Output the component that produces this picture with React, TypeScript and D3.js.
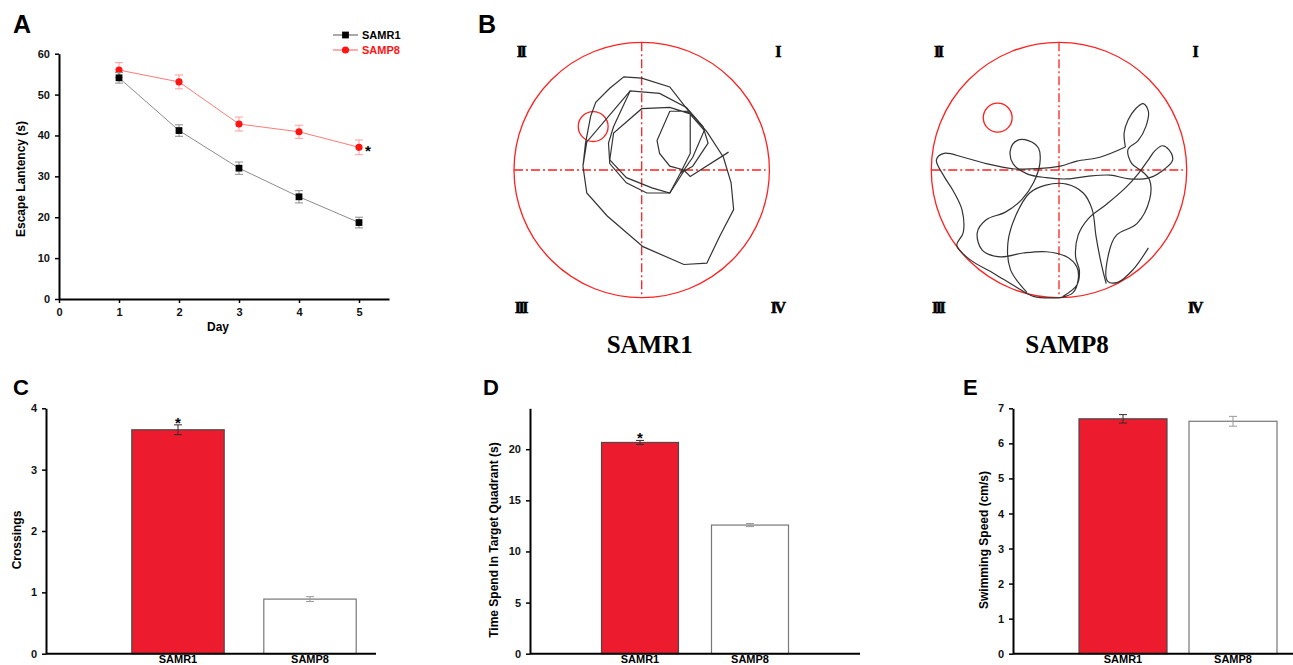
import { useEffect, useRef } from 'react';
import * as d3 from 'd3';

// A: escape latency over 5 training days
const days = [1, 2, 3, 4, 5];
const samr1Latency = [54.1, 41.2, 32.0, 25.0, 18.7];
const samr1LatencyErr = [1.3, 1.4, 1.5, 1.5, 1.3];
const samp8Latency = [56.0, 53.1, 42.8, 40.9, 37.1];
const samp8LatencyErr = [1.8, 1.7, 1.7, 1.6, 1.8];

// C, D, E: probe trial
const groups = ['SAMR1', 'SAMP8'];
const crossings = [3.65, 0.89];
const crossingsErr = [0.08, 0.04];
const targetTime = [20.66, 12.58];
const targetTimeErr = [0.2, 0.15];
const swimSpeed = [6.7, 6.63];
const swimSpeedErr = [0.12, 0.14];

// B: swim paths, pool units (radius = 100, centre = 0,0, y down)
const quadrants = ['I', 'II', 'III', 'IV'];
const platformR1 = [-38, -34, 11.7];
const platformP8 = [-48, -41, 11.3];
const trackR1 = [
	[[68, -14], [38, 5], [33, 0], [22, -3], [14, -13], [12, -23], [22, -46], [36, -46], [49, -31], [40, -10], [33, 0],
		[30, 3], [22, 18], [8, 14], [-12, 6], [-25, -8], [-22, -29], [0, -48], [22, -49], [38, -44], [38, -13], [30, 3]],
	[[40, -3], [52, -21], [48, -34], [35, -49], [14, -60], [-9, -62], [-22, -34], [-26, -21], [-25, -5], [-12, 10],
		[4, 18], [22, 18], [33, 1], [40, -3]],
	[[-9, -62], [-43, -22], [-46, -3], [-43, 18], [-27, 36], [1, 60], [33, 74], [51, 73], [61, 52], [72, 31], [70, 10],
		[64, -10], [51, -30], [36, -47], [22, -65], [0, -72], [-14, -73], [-25, -64], [-36, -53], [-40, -42], [-44, -21], [-46, -3]],
];
const trackP8 = [
	[[52, -18], [32, -10], [14, -7], [1, -3], [-17, -1], [-36, -1], [-57, -5], [-75, -10], [-90, -13], [-96, -8], [-90, 5],
		[-83, 16], [-76, 31], [-75, 49], [-80, 59], [-70, 70], [-51, 81], [-33, 92], [-20, 99], [1, 100]],
	[[52, -18], [51, -29], [54, -39], [60, -48], [66, -52], [70, -46], [68, -34], [62, -23], [54, -16], [57, -5], [65, 1],
		[71, 8], [71, 23], [61, 42], [45, 51], [39, 65], [38, 87], [46, 88], [58, 78], [70, 61]],
	[[1, 100], [11, 96], [15, 86], [14, 76], [6, 68], [-10, 64], [-28, 65], [-46, 68], [-60, 63], [-64, 49], [-57, 39],
		[-42, 33], [-29, 23], [-20, 10], [-15, -5], [-16, -17], [-24, -23], [-33, -23], [-38, -16], [-36, -5], [-25, 3],
		[-10, 6], [6, 7], [22, 5], [40, 4], [55, 7], [71, 6], [83, -1], [89, -8], [86, -16], [81, -19], [75, -15], [70, -8],
		[62, 3], [52, 14], [37, 27], [23, 38], [15, 51], [13, 68], [16, 79], [14, 90], [3, 99]],
	[[-25, 96], [-38, 78], [-40, 57], [-34, 36], [-23, 18], [-11, 12], [6, 11], [19, 18], [26, 31], [29, 52], [33, 73], [37, 89]],
];

const W = 1293;
const H = 665;
const FONT = '"Liberation Sans", Arial, sans-serif';
const SERIF = '"Liberation Serif", "Times New Roman", serif';
const RED_BAR = '#ec1b2e';

export default function App() {
	const svgRef = useRef<SVGSVGElement>(null);

	useEffect(() => {
		if (!svgRef.current) return;
		const svg = d3.select(svgRef.current);
		svg.selectAll('*').remove();
		svg.append('rect').attr('width', W).attr('height', H).attr('fill', '#fff');

		const styleAxis = (g: any) => {
			g.select('.domain').attr('stroke', '#000').attr('stroke-width', 2);
			g.selectAll('.tick line').attr('stroke', '#000').attr('stroke-width', 1.5);
			g.selectAll('.tick text')
				.attr('font-family', FONT)
				.attr('font-size', 11)
				.attr('font-weight', 'bold')
				.attr('fill', '#111');
		};

		const addText = (txt: string, x: number, y: number, size: number, opts: any = {}) =>
			svg
				.append('text')
				.attr('x', x)
				.attr('y', y)
				.attr('font-family', opts.family || FONT)
				.attr('font-size', size)
				.attr('font-weight', 'bold')
				.attr('fill', opts.fill || '#000')
				.attr('text-anchor', opts.anchor || 'start')
				.attr('letter-spacing', opts.spacing || 0)
				.text(txt);

		const yTitle = (txt: string, x: number, y: number) =>
			svg
				.append('text')
				.attr('transform', `translate(${x},${y}) rotate(-90)`)
				.attr('font-family', FONT)
				.attr('font-size', 12)
				.attr('font-weight', 'bold')
				.attr('text-anchor', 'middle')
				.text(txt);

		// ---------- Panel A ----------
		addText('A', 13, 33, 25);
		const ax = d3.scaleLinear().domain([0, 5.5]).range([59, 389]);
		const ay = d3.scaleLinear().domain([0, 60]).range([299, 53.7]);

		svg
			.append('g')
			.attr('transform', `translate(0,${ay(0)})`)
			.call(d3.axisBottom(ax).tickValues([0, 1, 2, 3, 4, 5]).tickFormat(d3.format('d')).tickSize(4).tickSizeOuter(0).tickPadding(5))
			.call(styleAxis);
		svg
			.append('g')
			.attr('transform', `translate(${ax(0)},0)`)
			.call(d3.axisLeft(ay).tickValues(d3.range(0, 61, 10)).tickSize(4).tickSizeOuter(0).tickPadding(5))
			.call(styleAxis);
		addText('Day', 218, 331, 12, { anchor: 'middle' });
		yTitle('Escape Lantency (s)', 25, 179);

		const series = [
			{ name: 'SAMP8', values: samp8Latency, errs: samp8LatencyErr, line: '#ff7a7a', err: '#ff9c9c', mark: '#ff1414', symbol: d3.symbolCircle, size: 40 },
			{ name: 'SAMR1', values: samr1Latency, errs: samr1LatencyErr, line: '#8c8c8c', err: '#8c8c8c', mark: '#000', symbol: d3.symbolSquare, size: 46 },
		];

		series.forEach((s) => {
			const pts = days.map((d, i) => ({ d, v: s.values[i], e: s.errs[i] }));
			const g = svg.append('g');
			pts.forEach((p) => {
				const x = ax(p.d);
				g.append('line').attr('x1', x).attr('x2', x).attr('y1', ay(p.v - p.e)).attr('y2', ay(p.v + p.e)).attr('stroke', s.err).attr('stroke-width', 1);
				[p.v - p.e, p.v + p.e].forEach((v) =>
					g.append('line').attr('x1', x - 4).attr('x2', x + 4).attr('y1', ay(v)).attr('y2', ay(v)).attr('stroke', s.err).attr('stroke-width', 1)
				);
			});
			g.append('path')
				.datum(pts)
				.attr('d', d3.line<any>().x((p) => ax(p.d)).y((p) => ay(p.v)))
				.attr('fill', 'none')
				.attr('stroke', s.line)
				.attr('stroke-width', 1);
			g.selectAll('.pt')
				.data(pts)
				.enter()
				.append('path')
				.attr('transform', (p) => `translate(${ax(p.d)},${ay(p.v)})`)
				.attr('d', d3.symbol().type(s.symbol).size(s.size)())
				.attr('fill', s.mark);
		});
		addText('*', ax(5) + 6, ay(samp8Latency[4]) + 9, 15);

		// legend
		[
			{ name: 'SAMR1', y: 35, line: '#555', mark: '#000', text: '#000', symbol: d3.symbolSquare, size: 46 },
			{ name: 'SAMP8', y: 50, line: '#ff5a5a', mark: '#ff1414', text: '#ff1414', symbol: d3.symbolCircle, size: 40 },
		].forEach((l) => {
			svg.append('line').attr('x1', 333).attr('x2', 358).attr('y1', l.y).attr('y2', l.y).attr('stroke', l.line).attr('stroke-width', 1);
			svg.append('path').attr('transform', `translate(345.5,${l.y})`).attr('d', d3.symbol().type(l.symbol).size(l.size)()).attr('fill', l.mark);
			addText(l.name, 362, l.y + 4, 11, { fill: l.text });
		});

		// ---------- Panel B ----------
		addText('B', 478, 33, 25);
		const drawPool = (cx: number, cy: number, track: number[][][], platform: number[], curve: any, title: string) => {
			const r = 127.7;
			const sx = d3.scaleLinear().domain([-100, 100]).range([cx - r, cx + r]);
			const sy = d3.scaleLinear().domain([-100, 100]).range([cy - r, cy + r]);
			const g = svg.append('g');
			g.append('circle').attr('cx', sx(0)).attr('cy', sy(0)).attr('r', r).attr('fill', 'none').attr('stroke', '#ff2020').attr('stroke-width', 1.3);
			g.append('line').attr('x1', sx(-100)).attr('x2', sx(97)).attr('y1', sy(0)).attr('y2', sy(0))
				.attr('stroke', '#ff2020').attr('stroke-width', 1.3).attr('stroke-dasharray', '9,3,2,3');
			g.append('line').attr('x1', sx(0)).attr('x2', sx(0)).attr('y1', sy(-100)).attr('y2', sy(100))
				.attr('stroke', '#ff2020').attr('stroke-width', 1.3).attr('stroke-dasharray', '9,3,2,3');
			g.append('circle').attr('cx', sx(platform[0])).attr('cy', sy(platform[1])).attr('r', sx(platform[2]) - sx(0))
				.attr('fill', 'none').attr('stroke', '#ff2020').attr('stroke-width', 1.3);
			const line = d3.line<number[]>().x((d) => sx(d[0])).y((d) => sy(d[1])).curve(curve);
			g.selectAll('.trk')
				.data(track)
				.enter()
				.append('path')
				.attr('d', (d) => line(d))
				.attr('fill', 'none')
				.attr('stroke', '#333')
				.attr('stroke-width', 1.2);
			// quadrant numerals: I top-right, II top-left, III bottom-left, IV bottom-right
			const qx = [106, -95, -95, 106];
			const qy = [-93, -93, 107, 107];
			quadrants.forEach((q, i) => {
				addText(q, sx(qx[i]), sy(qy[i]) + 6, 16, { family: SERIF, anchor: 'middle', spacing: -2.5 })
					.attr('stroke', '#000')
					.attr('stroke-width', 0.6);
			});
			addText(title, cx + 8, 353, 25, { family: SERIF, anchor: 'middle' });
		};
		drawPool(641.7, 170, trackR1, platformR1, d3.curveLinear, 'SAMR1');
		drawPool(1059, 170, trackP8, platformP8, d3.curveCatmullRom.alpha(0.5), 'SAMP8');

		// ---------- Panels C, D, E ----------
		const barPanel = (cfg: {
			letter: string; lx: number; x0: number; x1: number; xMax: number; yMax: number; ticks: number[];
			values: number[]; errs: number[]; frac: number; title: string; titleX: number; star: boolean;
		}) => {
			addText(cfg.letter, cfg.lx, 395, 22);
			const x = d3.scaleLinear().domain([0, cfg.xMax]).range([cfg.x0, cfg.x1]);
			const y = d3.scaleLinear().domain([0, cfg.yMax]).range([653.7, 408.3]);
			const bw = x(cfg.frac) - x(0);
			const g = svg.append('g');
			groups.forEach((name, i) => {
				const cx = x(i + 1);
				const v = cfg.values[i];
				const e = cfg.errs[i];
				g.append('rect')
					.attr('x', cx - bw / 2)
					.attr('y', y(v))
					.attr('width', bw)
					.attr('height', y(0) - y(v))
					.attr('fill', i === 0 ? RED_BAR : '#fff')
					.attr('stroke', i === 0 ? '#4a4a4a' : '#777')
					.attr('stroke-width', 1.2);
				const ec = i === 0 ? '#3a2a2a' : '#999';
				g.append('line').attr('x1', cx).attr('x2', cx).attr('y1', y(v - e)).attr('y2', y(v + e)).attr('stroke', ec).attr('stroke-width', 1);
				[v - e, v + e].forEach((ev) =>
					g.append('line').attr('x1', cx - 4).attr('x2', cx + 4).attr('y1', y(ev)).attr('y2', y(ev)).attr('stroke', ec).attr('stroke-width', 1)
				);
				if (cfg.star && i === 0) addText('*', cx, y(v + e) + 3, 15, { anchor: 'middle' });
				addText(name, cx, 663, 11, { anchor: 'middle' });
			});
			svg.append('line').attr('x1', x(0)).attr('x2', cfg.x1).attr('y1', y(0)).attr('y2', y(0)).attr('stroke', '#000').attr('stroke-width', 2);
			svg
				.append('g')
				.attr('transform', `translate(${x(0)},0)`)
				.call(d3.axisLeft(y).tickValues(cfg.ticks).tickFormat(d3.format('d')).tickSize(4).tickSizeOuter(0).tickPadding(5))
				.call(styleAxis);
			yTitle(cfg.title, cfg.titleX, 540);
		};

		barPanel({
			letter: 'C', lx: 13, x0: 46, x1: 376, xMax: 2.5, yMax: 4, ticks: [0, 1, 2, 3, 4],
			values: crossings, errs: crossingsErr, frac: 0.7, title: 'Crossings', titleX: 21, star: true,
		});
		barPanel({
			letter: 'D', lx: 483, x0: 530, x1: 860, xMax: 3, yMax: 24, ticks: [0, 5, 10, 15, 20],
			values: targetTime, errs: targetTimeErr, frac: 0.7, title: 'Time Spend In Target Quadrant (s)', titleX: 498, star: true,
		});
		barPanel({
			letter: 'E', lx: 963, x0: 1013, x1: 1293.5, xMax: 2.55, yMax: 7, ticks: [0, 1, 2, 3, 4, 5, 6, 7],
			values: swimSpeed, errs: swimSpeedErr, frac: 0.8, title: 'Swimming Speed (cm/s)', titleX: 988, star: false,
		});
	}, []);

	return (
		<svg
			ref={svgRef}
			width={W}
			height={H}
			style={{ position: 'absolute', left: 0, top: 0, display: 'block' }}
		></svg>
	);
}
